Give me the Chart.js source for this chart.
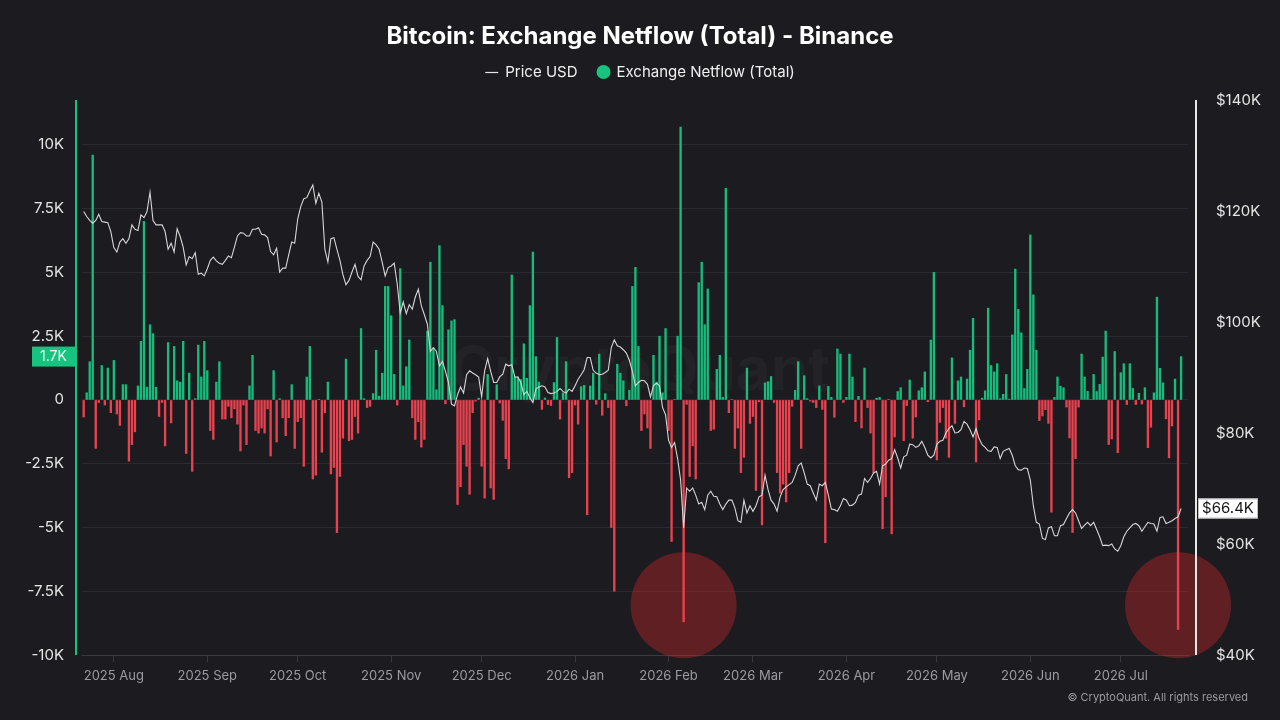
<!DOCTYPE html>
<html>
<head>
<meta charset="utf-8">
<title>Bitcoin: Exchange Netflow (Total) - Binance</title>
<script src="https://cdn.jsdelivr.net/npm/chart.js@4.4.1/dist/chart.umd.min.js"></script>
<style>
  html, body { margin: 0; padding: 0; background: #1b1b20; }
  #wrap { width: 1280px; height: 720px; }
</style>
</head>
<body>
<div id="wrap"><canvas id="netflowChart" width="1280" height="720"></canvas></div>
<script>
// daily series, first value is 2025-07-22
const startDay = '2025-07-22';

const monthStarts = ['2025-08-01', '2025-09-01', '2025-10-01', '2025-11-01', '2025-12-01', '2026-01-01',
    '2026-02-01', '2026-03-01', '2026-04-01', '2026-05-01', '2026-06-01', '2026-07-01'];
const monthLabels = ['2025 Aug', '2025 Sep', '2025 Oct', '2025 Nov', '2025 Dec', '2026 Jan',
    '2026 Feb', '2026 Mar', '2026 Apr', '2026 May', '2026 Jun', '2026 Jul'];

const flowTicks = [-10, -7.5, -5, -2.5, 0, 2.5, 5, 7.5, 10];   // K BTC
const priceTicks = [40, 60, 80, 100, 120, 140];                // K USD

// Exchange netflow, thousands of BTC
const netflowK = [
    -0.67, 0.28, 1.5, 9.6, -1.9, -0.1, 1.35, -0.2, 1.25, -0.5,
    1.55, -0.55, -1.0, 0.6, 0.6, -2.4, -1.75, -1.25, 0.55, 2.3,
    7.0, 0.5, 2.95, 2.6, 0.5, -0.65, -0.1, -1.8, 2.25, -0.9,
    2.1, 0.75, 0.7, 2.3, -2.1, 1.05, -2.8, 0.05, 2.15, 0.9,
    2.3, 1.15, -1.2, -1.55, 0.7, 1.5, -0.75, -0.75, -0.25, -0.7,
    -0.35, -0.95, -2.0, -0.2, -1.75, 0.55, 1.75, -1.2, -1.3, -1.1,
    -1.3, -0.35, -2.2, 1.15, -1.65, 0.05, -0.7, -1.4, -0.7, 0.6,
    -1.9, -0.85, -0.7, -2.6, 0.9, 2.1, -3.1, -2.95, 0.02, -2.05,
    -0.5, 0.7, -2.9, -2.65, -5.2, -3.0, -1.5, 1.6, -1.6, -1.55,
    -0.65, -1.3, 2.8, 0.05, -0.3, -0.25, 0.25, 1.95, 0.15, 1.05,
    4.45, 4.45, 3.3, 1.0, -0.2, 5.15, 0.55, 1.3, 2.35, -0.7,
    -1.55, -0.85, -1.85, -1.55, 2.7, 5.4, 2.0, 0.4, 6.05, 3.7,
    -0.15, 2.75, 3.1, 3.15, -4.1, -3.4, -1.75, -2.6, -3.7, -0.5,
    -0.05, 0.07, -2.6, -3.85, 1.0, -3.45, -3.9, 0.6, -0.12, -0.8,
    -2.3, -2.7, 4.9, 0.9, 0.9, 0.8, 2.2, 0.85, 3.7, 5.8,
    1.7, 0.7, -0.37, 0.08, -0.18, -0.22, 0.68, 2.45, -0.75, 0.28,
    1.5, -3.05, -2.85, -0.2, -0.95, 0.52, 0.57, -4.5, 0.55, 1.05,
    -0.17, 1.8, -0.6, 0.25, -0.3, -5.0, -7.5, 1.4, 1.05, 0.75,
    -0.23, 0.38, 4.45, 5.2, 2.1, -1.2, -0.55, -1.1, -1.9, 1.75,
    0.7, 2.5, 0.28, 2.8, -1.2, -5.55, 0.02, 2.5, 10.7, -8.7,
    -0.17, -3.0, -1.8, -3.1, 4.6, 5.4, 2.95, 4.35, -1.2, -1.15,
    1.2, 1.75, 0.1, 8.3, -0.5, 0.02, -1.9, -1.1, -2.85, -2.25,
    1.25, -0.92, -0.65, -3.55, -0.07, -4.9, 0.67, 0.72, 0.92, -0.1,
    -2.85, -3.65, -3.3, -4.0, -2.85, -0.25, 0.38, 1.5, -1.9, 0.95,
    0.05, -0.05, -0.1, -0.3, 0.55, -0.37, -5.6, 0.53, 0.1, -0.68,
    2.0, 1.8, -0.1, 0.1, 1.8, 0.9, -0.85, 0.14, -1.1, 1.25,
    -0.3, -1.3, -2.85, 0.07, 0.1, -5.05, -3.8, 0.02, -5.25, -1.45,
    0.33, 0.48, -1.6, -0.22, 0.78, -1.5, -0.67, 0.36, 0.48, 1.1,
    -0.07, 2.35, 5.0, -2.35, -0.88, -0.3, -1.5, -2.25, 1.65, -0.92,
    0.75, 0.9, -0.27, 0.82, 1.95, 3.2, -2.43, -0.78, 0.07, 0.36,
    3.6, 1.35, 1.1, 1.42, 0.05, 0.22, 1.0, 0.03, 2.55, 5.13,
    3.55, 2.63, 0.45, 1.2, 6.47, 4.12, 1.95, -0.81, -0.63, -0.38,
    -0.92, -4.4, 0.1, 0.9, 0.54, 0.48, -0.28, -1.49, -5.2, -2.3,
    -0.28, 1.8, 0.9, 0.34, 0.02, 1.0, 0.33, 0.61, 1.68, 2.7,
    -1.75, -1.53, 1.9, -2.07, 1.07, 1.42, -0.18, 1.42, 0.45, -0.18,
    0.26, -0.16, 0.48, -1.87, -1.07, 0.28, 4.03, 1.24, 0.67, -0.74,
    -2.27, -1.02, 0.82, -9.0, 1.7
];

// BTC price, thousands of USD
const priceK = [
    119.9, 119.0, 118.3, 117.8, 118.3, 119.4, 118.1, 118.0, 117.9, 116.3,
    113.4, 112.6, 114.4, 115.0, 114.2, 115.0, 117.5, 116.7, 116.5, 119.3,
    118.8, 119.9, 123.4, 118.3, 117.5, 117.5, 117.5, 116.3, 113.1, 114.2,
    112.6, 116.8, 115.4, 113.5, 110.3, 111.8, 111.4, 112.5, 108.6, 108.8,
    108.3, 109.6, 111.1, 111.7, 111.0, 110.6, 110.4, 111.1, 111.9, 111.6,
    113.5, 115.5, 116.1, 116.0, 115.5, 115.5, 116.7, 116.7, 117.0, 115.8,
    115.7, 115.2, 112.7, 112.1, 113.3, 109.0, 109.7, 109.7, 112.1, 114.4,
    114.2, 118.6, 120.8, 122.2, 122.4, 123.6, 124.7, 121.4, 123.2, 121.6,
    113.1, 110.8, 115.0, 115.2, 113.1, 111.1, 108.5, 106.7, 107.5, 109.0,
    110.4, 108.2, 107.6, 110.1, 111.1, 111.8, 114.4, 113.9, 113.1, 110.8,
    108.3, 109.8, 110.1, 110.6, 106.8, 101.6, 103.6, 101.5, 103.1, 102.3,
    104.5, 105.9, 102.9, 101.3, 99.6, 94.7, 95.4, 94.7, 92.1, 92.9,
    91.1, 89.1, 85.2, 84.9, 86.9, 88.3, 87.2, 90.5, 91.2, 90.8,
    90.5, 90.1, 86.5, 91.2, 93.4, 91.1, 89.1, 89.1, 90.1, 90.6,
    92.4, 92.1, 92.3, 90.1, 90.1, 89.1, 86.9, 87.5, 86.4, 85.5,
    87.9, 88.3, 88.5, 88.3, 87.3, 87.1, 87.2, 87.5, 88.0, 87.5,
    87.2, 87.9, 87.5, 88.5, 89.7, 90.5, 91.4, 93.6, 93.6, 91.3,
    90.8, 90.5, 90.6, 90.9, 91.3, 95.4, 96.8, 95.7, 95.5, 95.0,
    94.4, 93.1, 91.1, 88.5, 89.1, 89.5, 89.4, 88.8, 86.5, 88.5,
    89.0, 88.5, 84.6, 83.3, 78.7, 77.4, 78.3, 75.4, 71.5, 62.9,
    70.1, 69.5, 70.1, 68.8, 67.2, 67.5, 66.2, 68.8, 69.5, 68.6,
    68.5, 67.2, 66.2, 67.2, 67.9, 67.9, 66.5, 64.2, 63.9, 67.9,
    65.6, 66.9, 65.9, 66.9, 68.5, 68.8, 72.4, 69.8, 67.9, 67.2,
    65.9, 68.5, 69.8, 70.3, 70.7, 71.1, 72.4, 74.1, 74.6, 72.8,
    70.8, 70.5, 69.2, 67.9, 70.8, 70.5, 71.1, 68.8, 66.3, 66.2,
    65.9, 66.9, 68.2, 67.9, 66.9, 67.0, 67.5, 68.8, 69.0, 71.8,
    71.1, 71.8, 72.8, 73.1, 70.8, 74.1, 74.4, 75.1, 75.4, 77.0,
    75.5, 73.7, 75.7, 76.0, 78.0, 77.9, 77.4, 77.7, 78.5, 77.4,
    76.0, 75.5, 76.0, 78.0, 78.5, 78.7, 80.0, 80.8, 81.3, 80.0,
    80.1, 80.6, 82.1, 81.6, 80.6, 79.3, 80.8, 79.0, 77.9, 77.4,
    76.8, 76.7, 77.5, 77.4, 75.4, 76.7, 77.0, 77.2, 76.0, 74.1,
    73.4, 73.3, 73.7, 73.6, 71.5, 66.9, 63.9, 63.6, 61.0, 60.8,
    62.9, 63.1, 61.5, 61.5, 63.3, 63.5, 64.6, 65.6, 66.2, 65.6,
    64.2, 62.8, 63.4, 63.9, 63.3, 63.9, 62.6, 61.3, 59.7, 59.8,
    59.7, 60.0, 59.1, 58.7, 59.7, 61.3, 62.3, 62.9, 63.5, 63.7,
    63.3, 62.3, 63.1, 63.9, 63.7, 63.6, 62.3, 64.8, 64.9, 63.7,
    63.9, 64.2, 64.6, 64.9, 66.4
];

// the two circled outflow days
const highlightDays = ['2026-02-06', '2026-07-20'];
const highlightLevel = -8.05;

const GREEN = '#16c47f';
const BAR_GREEN = '#17bb7b';
const RED = '#e8424f';
const BG = '#1b1b20';
const FONT = 'Inter, "Noto Sans", sans-serif';

const DAY_MS = 86400000;
const dayIndex = (d) => Math.round((Date.parse(d) - Date.parse(startDay)) / DAY_MS);
const monthTickIdx = monthStarts.map(dayIndex);

Chart.defaults.font.family = FONT;

const decorPlugin = {
    id: 'decor',
    beforeDraw(chart) {
        const c = chart.ctx;
        c.save();
        c.fillStyle = BG;
        c.fillRect(0, 0, chart.width, chart.height);

        // title
        c.fillStyle = '#ffffff';
        c.font = 'bold 24px ' + FONT;
        c.textAlign = 'center';
        c.textBaseline = 'middle';
        c.fillText('Bitcoin: Exchange Netflow (Total) - Binance', chart.width / 2, 37);

        // legend
        c.font = '15px ' + FONT;
        const t1 = 'Price USD', t2 = 'Exchange Netflow (Total)';
        const w1 = c.measureText(t1).width, w2 = c.measureText(t2).width;
        const total = 13 + 7 + w1 + 19 + 14 + 6 + w2;
        let x = chart.width / 2 - total / 2;
        const ly = 72;
        c.strokeStyle = '#e6e6e6';
        c.lineWidth = 1.2;
        c.beginPath();
        c.moveTo(x, ly + 0.5);
        c.lineTo(x + 13, ly + 0.5);
        c.stroke();
        x += 20;
        c.textAlign = 'left';
        c.fillStyle = '#f0f0f0';
        c.fillText(t1, x, ly);
        x += w1 + 19;
        c.fillStyle = GREEN;
        c.beginPath();
        c.arc(x + 7, ly, 7, 0, Math.PI * 2);
        c.fill();
        x += 20;
        c.fillStyle = '#f0f0f0';
        c.fillText(t2, x, ly);

        // footer
        c.font = '11px ' + FONT;
        c.textAlign = 'right';
        c.fillStyle = '#9a9a9f';
        c.fillText('\u00a9 CryptoQuant. All rights reserved', 1248, 698);
        c.restore();
    },
    beforeDatasetsDraw(chart) {
        const c = chart.ctx;
        const xs = chart.scales.x, ys = chart.scales.yFlow;
        c.save();
        // watermark
        c.fillStyle = 'rgba(255,255,255,0.03)';
        c.font = 'bold 60px ' + FONT;
        c.textAlign = 'center';
        c.textBaseline = 'middle';
        c.fillText('CryptoQuant', 640, 372);
        // circles around the big outflows
        c.fillStyle = 'rgba(200,40,40,0.4)';
        highlightDays.forEach((d) => {
            const cx = xs.getPixelForValue(dayIndex(d));
            const cy = ys.getPixelForValue(highlightLevel);
            c.beginPath();
            c.arc(cx, cy, 53, 0, Math.PI * 2);
            c.fill();
        });
        c.restore();
    },
    afterDraw(chart) {
        const c = chart.ctx;
        const area = chart.chartArea;
        c.save();
        // axis lines, set slightly outside the plot
        c.lineWidth = 2;
        c.strokeStyle = GREEN;
        c.beginPath();
        c.moveTo(76, area.top);
        c.lineTo(76, area.bottom);
        c.stroke();
        c.strokeStyle = '#e8e8e8';
        c.beginPath();
        c.moveTo(1196, area.top);
        c.lineTo(1196, area.bottom);
        c.stroke();

        // last value labels
        const lastFlow = netflowK[netflowK.length - 1];
        const lastPrice = priceK[priceK.length - 1];
        const fy = chart.scales.yFlow.getPixelForValue(lastFlow);
        const py = chart.scales.yPrice.getPixelForValue(lastPrice);
        c.textBaseline = 'middle';
        c.textAlign = 'center';

        c.fillStyle = GREEN;
        c.fillRect(32, fy - 10, 43, 20);
        c.fillStyle = '#ffffff';
        c.font = '14px ' + FONT;
        c.fillText(lastFlow.toFixed(1) + 'K', 53.5, fy + 0.5);

        c.fillStyle = '#ffffff';
        c.fillRect(1198, py - 10, 60, 20);
        c.strokeStyle = '#bdbdbd';
        c.lineWidth = 1;
        c.strokeRect(1198.5, py - 9.5, 59, 19);
        c.fillStyle = '#151518';
        c.font = '15px ' + FONT;
        c.fillText('$' + lastPrice.toFixed(1) + 'K', 1228, py + 0.5);
        c.restore();
    }
};

const ctx = document.getElementById('netflowChart').getContext('2d');

new Chart(ctx, {
    data: {
        datasets: [{
            type: 'line',
            label: 'Price USD',
            data: priceK.map((v, i) => ({ x: i, y: v })),
            yAxisID: 'yPrice',
            borderColor: '#d6d6d6',
            borderWidth: 1.1,
            pointRadius: 0,
            tension: 0,
            order: 0,
        }, {
            type: 'bar',
            label: 'Exchange Netflow (Total)',
            data: netflowK.map((v, i) => ({ x: i, y: v })),
            yAxisID: 'yFlow',
            backgroundColor: netflowK.map((v) => (v >= 0 ? BAR_GREEN : RED)),
            barThickness: 1.7,
            order: 1,
        }],
    },
    options: {
        responsive: false,
        animation: false,
        layout: { padding: { top: 100, left: 0, right: 0, bottom: 0 } },
        plugins: {
            legend: { display: false },
            title: { display: false },
            tooltip: { enabled: false },
        },
        scales: {
            x: {
                type: 'linear',
                offset: false,
                min: -0.56,
                max: 366.3,
                afterFit: (s) => { s.height = 65; },
                afterBuildTicks: (s) => { s.ticks = monthTickIdx.map((v) => ({ value: v })); },
                ticks: {
                    autoSkip: false,
                    maxRotation: 0,
                    padding: 6,
                    color: '#9b9ba0',
                    font: { size: 13 },
                    callback: (v) => monthLabels[monthTickIdx.indexOf(v)],
                },
                grid: { offset: false, drawOnChartArea: false, drawTicks: true, tickLength: 7, color: '#3a3a40' },
                border: { display: true, color: '#3a3a40' },
            },
            yFlow: {
                position: 'left',
                min: -10,
                max: 11.76,
                afterFit: (s) => { s.width = 82; },
                afterBuildTicks: (s) => { s.ticks = flowTicks.map((v) => ({ value: v })); },
                ticks: {
                    padding: 18,
                    color: '#e4e4e4',
                    font: { size: 15 },
                    callback: (v) => (v === 0 ? '0' : v + 'K'),
                },
                grid: { color: '#2a2a30', drawTicks: false },
                border: { display: false },
            },
            yPrice: {
                position: 'right',
                min: 40,
                max: 140,
                afterFit: (s) => { s.width = 92; },
                afterBuildTicks: (s) => { s.ticks = priceTicks.map((v) => ({ value: v })); },
                ticks: {
                    padding: 20,
                    color: '#e4e4e4',
                    font: { size: 15 },
                    callback: (v) => '$' + v + 'K',
                },
                grid: { display: false },
                border: { display: false },
            },
        },
    },
    plugins: [decorPlugin],
});
</script>
</body>
</html>
